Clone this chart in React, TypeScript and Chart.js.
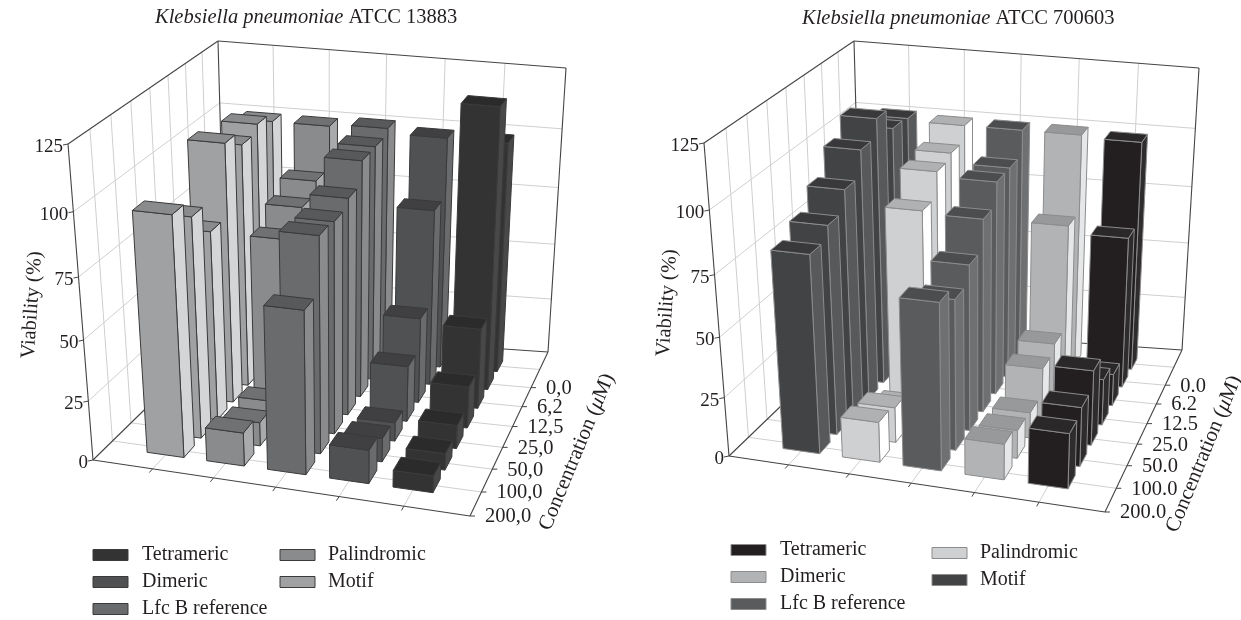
import React, { useEffect, useRef } from "react";
import { Chart, registerables } from "chart.js";

Chart.register(...registerables);

const seriesNames = ["Tetrameric", "Dimeric", "Lfc B reference", "Palindromic", "Motif"];
const viabilityTicks = [0, 25, 50, 75, 100, 125];

// Rows run from the back of the chart (0 µM) to the front (200 µM).
const concentrationsLeft = ["0,0", "6,2", "12,5", "25,0", "50,0", "100,0", "200,0"];
const concentrationsRight = ["0.0", "6.2", "12.5", "25.0", "50.0", "100.0", "200.0"];

const leftTetrameric = [100, 120, 35, 18, 10, 7, 7];
const leftDimeric = [100, 76, 37, 24, 8, 10, 14];
const leftLfcB = [102, 100, 100, 91, 88, 89, 67];
const leftPalindromic = [101, 84, 79, 72, 11, 10, 14];
const leftMotif = [101, 105, 102, 108, 79, 91, 98];

const rightTetrameric = [100, 66, 14, 20, 32, 25, 23];
const rightDimeric = [101, 69, 25, 22, 11, 12, 15];
const rightLfcB = [101, 91, 91, 82, 70, 63, 69];
const rightPalindromic = [101, 95, 93, 83, 8, 15, 17];
const rightMotif = [102, 103, 112, 105, 95, 87, 82];

type Pt = [number, number];
type Shade = { front: string; side: string; top: string };

const leftShades: Shade[] = [
  { front: "#333334", side: "#484849", top: "#2b2b2c" },
  { front: "#505153", side: "#6a6b6d", top: "#404042" },
  { front: "#6a6b6d", side: "#8a8b8d", top: "#58595b" },
  { front: "#8a8b8d", side: "#a9aaac", top: "#707173" },
  { front: "#a0a1a3", side: "#d4d5d7", top: "#8a8b8d" },
];
const rightShades: Shade[] = [
  { front: "#231f20", side: "#2f2c2d", top: "#2b2829" },
  { front: "#b2b3b5", side: "#e6e7e8", top: "#98999b" },
  { front: "#5a5b5d", side: "#6f7072", top: "#4c4d4f" },
  { front: "#cfd0d2", side: "#ffffff", top: "#b0b1b3" },
  { front: "#424345", side: "#58595b", top: "#39393b" },
];

const leftPanel = {
  originX: 0,
  title: "ATCC 13883",
  titleX: 155,
  titleY: 18,
  labels: concentrationsLeft,
  series: [leftTetrameric, leftDimeric, leftLfcB, leftPalindromic, leftMotif],
  shades: leftShades,
  edge: "#3a3a3a",
  corners: {
    fl0: [93, 460], fr0: [470, 516], bl0: [226, 330], br0: [548, 352],
    fl1: [68, 144], fr1: [483, 186], bl1: [218, 41], br1: [566, 68],
  } as Record<string, Pt>,
  yLabel: [32, 305] as Pt,
  zLabel: [577, 452] as Pt,
  legend: {
    col1: [93, 142], col2: [280, 328], ys1: [555, 582, 609], ys2: [555, 582],
  },
};

const rightPanel = {
  originX: 620,
  title: "ATCC 700603",
  titleX: 802,
  titleY: 19,
  labels: concentrationsRight,
  series: [rightTetrameric, rightDimeric, rightLfcB, rightPalindromic, rightMotif],
  shades: rightShades,
  edge: "#8c8c8c",
  corners: {
    fl0: [729, 456], fr0: [1105, 512], bl0: [862, 328], br0: [1182, 350],
    fl1: [704, 143], fr1: [1118, 183], bl1: [854, 41], br1: [1199, 68],
  } as Record<string, Pt>,
  yLabel: [667, 303] as Pt,
  zLabel: [1204, 454] as Pt,
  legend: {
    col1: [731, 780], col2: [932, 980], ys1: [550, 577, 604], ys2: [553, 580],
  },
};

type Panel = typeof leftPanel;

const warp = (t: number, a: number) => (t * a) / (1 + (a - 1) * t);
const SERIF = '"Liberation Serif", serif';

function makePlugin(panel: Panel) {
  return {
    id: "bars3d",
    afterDatasetsDraw(chart: any) {
      const { ctx } = chart;
      const su = chart.scales.u;
      const sd = chart.scales.d;
      const sy = chart.scales.y;
      const c = panel.corners;

      const project = (u: number, d: number, v: number): Pt => {
        const a = warp((su.getPixelForValue(u) - su.left) / su.width, 0.94);
        const b = warp((sd.getPixelForValue(d) - sd.left) / sd.width, 1.2);
        const h = warp((sy.bottom - sy.getPixelForValue(v)) / sy.height, 0.917);
        const mix = (k: 0 | 1) => {
          const f0 = c.fl0[k] + (c.fr0[k] - c.fl0[k]) * a;
          const b0 = c.bl0[k] + (c.br0[k] - c.bl0[k]) * a;
          const f1 = c.fl1[k] + (c.fr1[k] - c.fl1[k]) * a;
          const b1 = c.bl1[k] + (c.br1[k] - c.bl1[k]) * a;
          const lo = f0 + (b0 - f0) * b;
          const hi = f1 + (b1 - f1) * b;
          return lo + (hi - lo) * h;
        };
        return [mix(0) - panel.originX, mix(1)];
      };

      const line = (p: Pt, q: Pt, color: string, width = 1) => {
        ctx.strokeStyle = color;
        ctx.lineWidth = width;
        ctx.beginPath();
        ctx.moveTo(p[0], p[1]);
        ctx.lineTo(q[0], q[1]);
        ctx.stroke();
      };
      const poly = (pts: Pt[], fill: string, stroke: string) => {
        ctx.beginPath();
        pts.forEach((p, i) => (i ? ctx.lineTo(p[0], p[1]) : ctx.moveTo(p[0], p[1])));
        ctx.closePath();
        ctx.fillStyle = fill;
        ctx.fill();
        ctx.strokeStyle = stroke;
        ctx.lineWidth = 1;
        ctx.lineJoin = "round";
        ctx.stroke();
      };

      const uMax = su.max;
      const dMax = sd.max;
      const vMax = sy.max;
      const grid = "#cfcfcf";
      ctx.save();

      // Walls and floor grid
      for (let i = 1; i < uMax; i++) {
        line(project(i, dMax, 0), project(i, dMax, vMax), grid);
        line(project(i, 0, 0), project(i, dMax, 0), grid);
      }
      for (let i = 1; i < dMax; i++) {
        line(project(0, i, 0), project(0, i, vMax), grid);
        line(project(0, i, 0), project(uMax, i, 0), grid);
      }
      sy.ticks.forEach((t: any) => {
        if (t.value === 0 || t.value === vMax) return;
        line(project(0, 0, t.value), project(0, dMax, t.value), grid);
        line(project(0, dMax, t.value), project(uMax, dMax, t.value), grid);
      });

      // Frame
      const dark = "#444446";
      const frame: [Pt, Pt][] = [
        [project(0, 0, 0), project(uMax, 0, 0)],
        [project(uMax, 0, 0), project(uMax, dMax, 0)],
        [project(0, 0, 0), project(0, dMax, 0)],
        [project(0, dMax, 0), project(uMax, dMax, 0)],
        [project(0, 0, 0), project(0, 0, vMax)],
        [project(0, 0, vMax), project(0, dMax, vMax)],
        [project(0, dMax, vMax), project(uMax, dMax, vMax)],
        [project(0, dMax, 0), project(0, dMax, vMax)],
        [project(uMax, dMax, 0), project(uMax, dMax, vMax)],
      ];
      frame.forEach(([p, q]) => line(p, q, dark, 1.1));
      for (let i = 1; i < uMax; i++) line(project(i, 0, 0), project(i, -0.18, 0), dark);

      // Bars, painted from back to front and from left to right
      const rows = panel.labels.length;
      const halfU = 0.31;
      const halfD = 0.3;
      for (let r = 0; r < rows; r++) {
        const dc = rows - r;
        for (let s = panel.series.length - 1; s >= 0; s--) {
          const uc = panel.series.length - s;
          const v = chart.data.datasets[s].data[r];
          const shade = panel.shades[s];
          const u0 = uc - halfU, u1 = uc + halfU, d0 = dc - halfD, d1 = dc + halfD;
          const A = project(u0, d0, 0), B = project(u1, d0, 0), C = project(u1, d1, 0);
          const E = project(u0, d0, v), F = project(u1, d0, v), G = project(u1, d1, v), H = project(u0, d1, v);
          poly([B, C, G, F], shade.side, panel.edge);
          poly([A, B, F, E], shade.front, panel.edge);
          poly([E, F, G, H], shade.top, panel.edge);
        }
      }

      // Text
      ctx.fillStyle = "#231f20";
      ctx.textBaseline = "middle";

      ctx.textAlign = "left";
      ctx.font = `italic 20.5px ${SERIF}`;
      const species = "Klebsiella pneumoniae";
      const tx = panel.titleX - panel.originX;
      ctx.fillText(species, tx, panel.titleY);
      const w = ctx.measureText(species + " ").width;
      ctx.font = `20.5px ${SERIF}`;
      ctx.fillText(panel.title, tx + w, panel.titleY);

      ctx.font = `19px ${SERIF}`;
      ctx.textAlign = "right";
      viabilityTicks.forEach((t) => {
        const p = project(0, 0, t);
        line(p, [p[0] - 5, p[1] + 1], dark);
        ctx.fillText(String(t), p[0] - 5, p[1] + 3);
      });

      ctx.font = `20.5px ${SERIF}`;
      ctx.textAlign = "left";
      panel.labels.forEach((lab, r) => {
        const d = rows - 1 - r;
        const p = project(uMax, d, 0);
        line(p, [p[0] + 5, p[1]], dark);
        ctx.fillText(lab, p[0] + 15, p[1] + 1);
      });

      ctx.save();
      ctx.translate(panel.yLabel[0] - panel.originX, panel.yLabel[1]);
      ctx.rotate((-86 * Math.PI) / 180);
      ctx.textAlign = "center";
      ctx.fillText("Viability (%)", 0, 0);
      ctx.restore();

      ctx.save();
      ctx.translate(panel.zLabel[0] - panel.originX, panel.zLabel[1]);
      ctx.rotate((-67.5 * Math.PI) / 180);
      ctx.textAlign = "left";
      const a1 = "Concentration (";
      const a2 = "\u03bc";
      const a3 = "M)";
      ctx.font = `21px ${SERIF}`;
      const w1 = ctx.measureText(a1).width;
      const w3 = ctx.measureText(a3).width;
      ctx.font = `italic 21px ${SERIF}`;
      const w2 = ctx.measureText(a2).width;
      const start = -(w1 + w2 + w3) / 2;
      ctx.fillText(a2, start + w1, 0);
      ctx.font = `21px ${SERIF}`;
      ctx.fillText(a1, start, 0);
      ctx.fillText(a3, start + w1 + w2, 0);
      ctx.restore();

      // Legend
      const lg = panel.legend;
      ctx.font = `20px ${SERIF}`;
      seriesNames.forEach((name, i) => {
        const col = i < 3 ? lg.col1 : lg.col2;
        const y = i < 3 ? lg.ys1[i] : lg.ys2[i - 3];
        const x = col[0] - panel.originX;
        ctx.fillStyle = panel.shades[i].front;
        ctx.strokeStyle = panel.edge;
        ctx.lineWidth = 1;
        ctx.fillRect(x, y - 5.5, 35, 11);
        ctx.strokeRect(x, y - 5.5, 35, 11);
        ctx.fillStyle = "#231f20";
        ctx.fillText(name, col[1] - panel.originX, y);
      });
      ctx.restore();
    },
  };
}

function Panel3D({ panel }: { panel: Panel }) {
  const ref = useRef<HTMLCanvasElement | null>(null);
  useEffect(() => {
    const chart = new Chart(ref.current as HTMLCanvasElement, {
      type: "bar",
      data: {
        labels: panel.labels,
        datasets: seriesNames.map((name, i) => ({
          label: name,
          data: panel.series[i],
          backgroundColor: "rgba(0,0,0,0)",
          borderWidth: 0,
        })),
      },
      options: {
        animation: false,
        responsive: false,
        devicePixelRatio: 1,
        layout: { padding: 0 },
        plugins: { legend: { display: false }, tooltip: { enabled: false }, title: { display: false } },
        scales: {
          x: { type: "category", display: false },
          y: { type: "linear", min: 0, max: 125, display: false, ticks: { stepSize: 25 } },
          u: { type: "linear", axis: "x", min: 0, max: 6, display: false, offset: false },
          d: { type: "linear", axis: "x", min: 0, max: 8, display: false, offset: false },
        },
      },
      plugins: [makePlugin(panel)],
    } as any);
    return () => chart.destroy();
  }, [panel]);
  return (
    <canvas
      ref={ref}
      width={panel.originX === 0 ? 620 : 621}
      height={620}
      style={{ position: "absolute", left: panel.originX, top: 0, display: "block" }}
    />
  );
}

export default function App() {
  return (
    <div style={{ position: "absolute", left: 0, top: 0, width: 1241, height: 620, background: "#fff", overflow: "hidden" }}>
      <Panel3D panel={leftPanel} />
      <Panel3D panel={rightPanel} />
    </div>
  );
}
